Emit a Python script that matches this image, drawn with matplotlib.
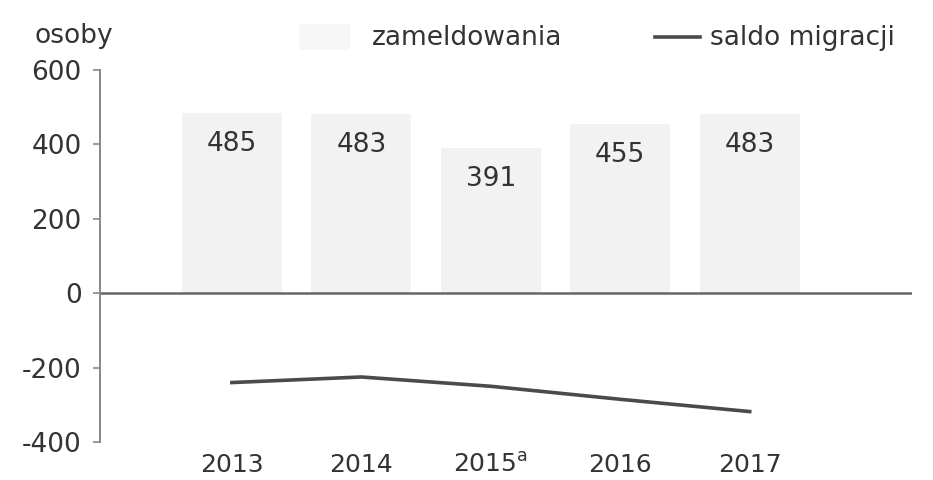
import matplotlib.pyplot as plt
from matplotlib.patches import Rectangle
from matplotlib.lines import Line2D

plt.rcParams["font.family"] = ["DejaVu Sans"]
plt.rcParams["axes.unicode_minus"] = False

years = ["2013", "2014", r"2015$^{\mathregular{a}}$", "2016", "2017"]
zameldowania = [485, 483, 391, 455, 483]
saldo = [-240, -225, -250, -285, -318]

txt = "#333333"
bar_col = "#f2f2f2"
line_col = "#4a4a4a"
fs = 19

fig = plt.figure(figsize=(9.33, 4.8), dpi=100)
ax = fig.add_axes([0.107, 0.079, 0.87, 0.775])

x = list(range(len(years)))
ax.bar(x, zameldowania, width=0.77, color=bar_col, zorder=1)
for xi, v in zip(x, zameldowania):
    ax.text(xi, v - 84, str(v), ha="center", va="center", fontsize=fs, color=txt, zorder=3)

ax.plot(x, saldo, color=line_col, linewidth=2.6, zorder=2)
ax.axhline(0, color="#666666", linewidth=1.8, zorder=2)

ax.set_xlim(-1.02, 5.25)
ax.set_ylim(-400, 600)
ax.set_yticks([-400, -200, 0, 200, 400, 600])
ax.set_xticks(x)
ax.set_xticklabels(years)
ax.tick_params(axis="y", labelsize=fs, labelcolor=txt, color="#888888", length=5, width=1.2, pad=8)
ax.tick_params(axis="x", labelsize=18, labelcolor=txt, length=0, pad=8)

for s in ["top", "right", "bottom"]:
    ax.spines[s].set_visible(False)
ax.spines["left"].set_color("#888888")
ax.spines["left"].set_linewidth(1.4)

fig.text(0.037, 0.925, "osoby", fontsize=fs, color=txt, va="center")

# legend drawn by hand to sit where the original has it
fig.add_artist(Rectangle((0.32, 0.895), 0.055, 0.055, transform=fig.transFigure,
                         facecolor="#f7f7f7", edgecolor="none"))
fig.text(0.399, 0.92, "zameldowania", fontsize=fs, color=txt, va="center")
fig.add_artist(Line2D([0.702, 0.75], [0.922, 0.922], transform=fig.transFigure,
                      color=line_col, linewidth=2.6))
fig.text(0.761, 0.92, "saldo migracji", fontsize=fs, color=txt, va="center")

fig.savefig("out.png", dpi=100)
